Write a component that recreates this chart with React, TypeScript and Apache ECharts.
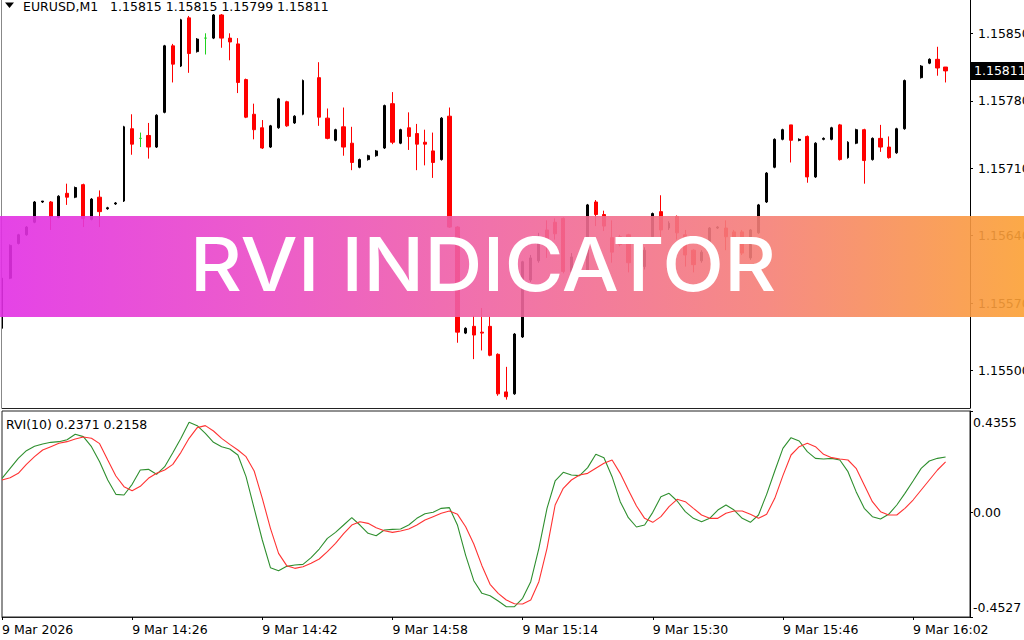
import React, { useEffect, useRef } from "react";
import * as echarts from "echarts";

const headerText = "EURUSD,M1   1.15815 1.15815 1.15799 1.15811";
const rviTitle = "RVI(10) 0.2371 0.2158";
const bannerText = "RVI INDICATOR";

const slotCount = 120; // minute slots 14:10 .. 16:09
const startMinute = 14 * 60 + 10;
const firstLabel = "9 Mar 2026";
const dayPrefix = "9 Mar ";

const priceTicks = [1.155, 1.1557, 1.1564, 1.1571, 1.1578, 1.1585];
const priceMin = 1.1546131;
const priceMax = 1.1588454;
const rviTicks = [0.4355, 0, -0.4527];
const rviMin = -0.4527;
const rviMax = 0.4355;

const open = [
  1.15544, 1.15596, 1.15632, 1.15641, 1.15654, 1.15675, 1.15675, 1.15659, 1.15684, 1.1568,
  1.15693, 1.15657, 1.1568, 1.15668, 1.15673, 1.15676, 1.15751, 1.15741, 1.15744, 1.15732,
  1.15768, 1.15837, 1.15816, 1.15866, 1.15831, 1.15845, 1.15845, 1.15869, 1.15845, 1.15839,
  1.15802, 1.15766, 1.15752, 1.15732, 1.15752, 1.15779, 1.15757, 1.15766, null, 1.15804,
  1.15762, 1.15739, 1.15753, 1.15736, 1.15711, 1.15719, 1.15723, 1.15731, 1.15777, 1.15736,
  1.15752, 1.15746, 1.15737, 1.15728, 1.15719, 1.15764, 1.15649, 1.15539, 1.15546, 1.1554,
  1.15546, 1.15517, 1.15478, 1.15476, 1.15535, 1.15594, 1.15614, 1.15646, 1.15654, 1.15658,
  1.15603, 1.15618, 1.15604, 1.15675, 1.15662, 1.15638, 1.15639, 1.15641, 1.15612, 1.15608,
  1.15639, 1.15665, 1.15648, 1.1566, 1.15641, 1.15625, 1.15614, 1.15632, 1.15648, 1.15648,
  1.15644, 1.15644, 1.15617, 1.15643, 1.15675, 1.15711, 1.1574, 1.15755, 1.15739, 1.15743,
  1.15701, 1.1574, 1.1574, 1.15755, 1.15721, 1.15736, 1.1575, 1.15719, 1.15741, 1.15732,
  1.15726, 1.15751, null, 1.15804, 1.15819, 1.15823, 1.15815,
];
const high = [
  1.15597, 1.15631, 1.15642, 1.1565, 1.15676, 1.15676, 1.15676, 1.15682, 1.15694, 1.15691,
  1.15694, 1.15679, 1.15687, 1.1567, 1.15675, 1.15754, 1.15766, 1.15747, 1.15757, 1.15766,
  1.15838, 1.15839, 1.15865, 1.15868, 1.15845, 1.1585, 1.1587, 1.1587, 1.1585, 1.15845,
  1.15803, 1.15777, 1.1576, 1.15755, 1.15783, 1.1578, 1.15765, 1.15802, null, 1.1582,
  1.15772, 1.15751, 1.15773, 1.15753, 1.1572, 1.15724, 1.15729, 1.15776, 1.15789, 1.15751,
  1.15768, 1.15756, 1.1575, 1.15747, 1.15763, 1.15773, 1.1565, 1.15545, 1.15557, 1.15565,
  1.15556, 1.15518, 1.15504, 1.15539, 1.15614, 1.1562, 1.15643, 1.15656, 1.15658, 1.15659,
  1.15622, 1.15624, 1.15673, 1.15677, 1.15666, 1.15656, 1.15641, 1.15642, 1.15618, 1.15628,
  1.15664, 1.15682, 1.15655, 1.15661, 1.15646, 1.15626, 1.15625, 1.15649, 1.1565, 1.15656,
  1.15646, 1.15646, 1.15647, 1.15673, 1.15706, 1.15741, 1.15751, 1.15755, 1.15741, 1.15744,
  1.15737, 1.15742, 1.15753, 1.15756, 1.15738, 1.15751, 1.15751, 1.15742, 1.15755, 1.15743,
  1.15752, 1.15802, null, 1.15817, 1.15824, 1.15836, 1.15815,
];
const low = [
  1.15542, 1.15595, 1.15631, 1.1564, 1.15653, 1.15674, 1.15646, 1.15658, 1.15672, 1.15679,
  1.15649, 1.15656, 1.15649, 1.15667, 1.15672, 1.15675, 1.15724, 1.15732, 1.1572, 1.15731,
  1.15767, 1.15799, 1.15815, 1.15809, 1.1583, 1.15828, 1.15844, 1.15835, 1.15822, 1.15788,
  1.15762, 1.1574, 1.1573, 1.15731, 1.15751, 1.15753, 1.15756, 1.15765, null, 1.15754,
  1.1574, 1.15738, 1.15723, 1.15708, 1.1571, 1.15718, 1.15722, 1.1573, 1.15735, 1.15735,
  1.15729, 1.15708, 1.15713, 1.157, 1.15718, 1.15648, 1.15529, 1.15538, 1.15512, 1.15521,
  1.15515, 1.15474, 1.1547, 1.15475, 1.15534, 1.15592, 1.15612, 1.15617, 1.15636, 1.15601,
  1.15598, 1.156, 1.15603, 1.1565, 1.15645, 1.15612, 1.15629, 1.15602, 1.156, 1.15605,
  1.15638, 1.15636, 1.15646, 1.15636, 1.15608, 1.15602, 1.15612, 1.15631, 1.15647, 1.15625,
  1.15636, 1.1562, 1.15615, 1.15642, 1.15674, 1.1571, 1.15739, 1.15716, 1.15738, 1.15695,
  1.157, 1.15739, 1.15739, 1.15718, 1.1572, 1.15735, 1.15694, 1.15718, 1.15727, 1.1572,
  1.15725, 1.1575, null, 1.15803, 1.15818, 1.15806, 1.15799,
];
const close = [
  1.15596, 1.1563, 1.15641, 1.15649, 1.15675, 1.15676, 1.1566, 1.15681, 1.1568, 1.1569,
  1.15658, 1.15678, 1.15665, 1.15669, 1.15674, 1.15753, 1.15735, 1.15741, 1.15732, 1.15765,
  1.15837, 1.15818, 1.15864, 1.15829, 1.15844, 1.15845, 1.15869, 1.15845, 1.15841, 1.15799,
  1.15763, 1.1575, 1.15731, 1.15754, 1.15782, 1.15754, 1.15764, 1.15801, null, 1.15763,
  1.15741, 1.1575, 1.15732, 1.15716, 1.15719, 1.15723, 1.15728, 1.15775, 1.15737, 1.1575,
  1.15743, 1.15735, 1.15735, 1.15716, 1.15762, 1.15649, 1.1554, 1.15544, 1.15537, 1.15539,
  1.15516, 1.15476, 1.15473, 1.15538, 1.15613, 1.15617, 1.15639, 1.15629, 1.15642, 1.15603,
  1.15618, 1.15605, 1.15672, 1.15662, 1.1565, 1.15623, 1.15631, 1.15612, 1.15608, 1.15625,
  1.15663, 1.15646, 1.15653, 1.15643, 1.1562, 1.1561, 1.15623, 1.15648, 1.15649, 1.15639,
  1.15638, 1.15622, 1.15646, 1.15672, 1.15705, 1.1574, 1.1575, 1.15739, 1.1574, 1.15701,
  1.15736, 1.15741, 1.15752, 1.15719, 1.15737, 1.1575, 1.15718, 1.15741, 1.15732, 1.15721,
  1.15751, 1.15801, null, 1.15816, 1.15823, 1.15814, 1.15811,
];

const rviMain = [
  0.1452, 0.1883, 0.2314, 0.2645, 0.2832, 0.2932, 0.3004, 0.3033, 0.3119, 0.3349,
  0.3249, 0.2817, 0.2171, 0.138, 0.0762, 0.0733, 0.1193, 0.1811, 0.184, 0.1624,
  0.1955, 0.2559, 0.3177, 0.3867, 0.3723, 0.3392, 0.3004, 0.2817, 0.2717, 0.2458,
  0.1524, 0.0158, -0.1207, -0.24, -0.253, -0.2343, -0.2285, -0.2257, -0.1969, -0.1596,
  -0.1136, -0.0877, -0.0561, -0.0244, -0.0561, -0.092, -0.1021, -0.0776, -0.0747, -0.0733,
  -0.0561, -0.0273, -0.0072, -0.0014, 0.0158, 0.0187, -0.0575, -0.1869, -0.2961, -0.3507,
  -0.3608, -0.3838, -0.4082, -0.4082, -0.3723, -0.3004, -0.1567, 0.0158, 0.1337, 0.1711,
  0.1596, 0.1567, 0.1912, 0.2487, 0.2343, 0.1524, 0.0446, -0.0244, -0.0647, -0.0561,
  -0.0014, 0.0661, 0.0805, 0.0474, 0.0014, -0.0273, -0.0417, -0.0273, 0.0086, 0.0302,
  0.0086, -0.0273, -0.0446, -0.0129, 0.0762, 0.1768, 0.2745, 0.3206, 0.3062, 0.2602,
  0.2314, 0.2285, 0.2314, 0.2242, 0.1739, 0.0877, 0.0158, -0.0201, -0.0302, -0.0101,
  0.0302, 0.0805, 0.1337, 0.1883, 0.2199, 0.2314, 0.2371,
];
const rviSignal = [
  0.138, 0.1481, 0.1667, 0.2055, 0.2386, 0.2674, 0.2817, 0.2961, 0.3033, 0.3148,
  0.3234, 0.3177, 0.2947, 0.2242, 0.1552, 0.1092, 0.092, 0.1107, 0.1452, 0.1667,
  0.1811, 0.2055, 0.2573, 0.3177, 0.3637, 0.3723, 0.3493, 0.3177, 0.2918, 0.2674,
  0.2386, 0.1768, 0.0589, -0.0704, -0.1782, -0.2314, -0.2429, -0.2357, -0.2214, -0.2027,
  -0.1711, -0.1351, -0.0934, -0.0561, -0.0417, -0.0489, -0.0676, -0.0805, -0.0877, -0.0819,
  -0.0733, -0.0561, -0.0345, -0.0201, -0.0057, 0.0043, -0.0101, -0.0633, -0.138, -0.2314,
  -0.3119, -0.3507, -0.3795, -0.3953, -0.3967, -0.3795, -0.3004, -0.1567, 0.0302, 0.1021,
  0.138, 0.1596, 0.1667, 0.1883, 0.2099, 0.2242, 0.1667, 0.0949, 0.0259, -0.0273,
  -0.0446, -0.0201, 0.023, 0.0546, 0.0446, 0.0158, -0.0129, -0.0273, -0.0273, -0.0057,
  0.0043, 0.0043, -0.0101, -0.0273, -0.0101, 0.0589, 0.1567, 0.2458, 0.2817, 0.2961,
  0.2817, 0.2487, 0.2343, 0.2285, 0.2242, 0.1883, 0.1164, 0.0446, 0.0014, -0.0129,
  -0.0129, 0.0158, 0.0517, 0.0949, 0.138, 0.1811, 0.2158,
];

const MT_FONT = '"DejaVu Sans", Verdana, sans-serif';
const MT_SIZE = 12.5;

function pad2(n: number) {
  return n < 10 ? "0" + n : String(n);
}

export default function App() {
  const ref = useRef<HTMLDivElement>(null);

  useEffect(() => {
    if (!ref.current) return;
    const chart = echarts.init(ref.current, undefined, { renderer: "svg" });

    const categories: string[] = [];
    for (let i = 0; i < slotCount; i++) {
      const m = startMinute + i;
      categories.push(i === 0 ? firstLabel : dayPrefix + pad2(Math.floor(m / 60)) + ":" + pad2(m % 60));
    }

    const bullData: number[][] = [];
    const bearData: number[][] = [];
    open.forEach((o, i) => {
      if (o == null) return;
      const row = [i, o, close[i] as number, low[i] as number, high[i] as number];
      if ((close[i] as number) >= o) bullData.push(row);
      else bearData.push(row);
    });
    const lastClose = close[close.length - 1] as number;

    const candleDims = ["slot", "open", "close", "lowest", "highest"];
    const candleEncode = { x: "slot", y: ["open", "close", "lowest", "highest"] };

    const option: any = {
      animation: false,
      backgroundColor: "#ffffff",
      textStyle: { fontFamily: MT_FONT },
      grid: [
        { left: 2, right: 54, top: 0, height: 408, show: false, containLabel: false, outerBoundsMode: "none" },
        {
          left: 2,
          right: 54,
          top: 411,
          bottom: 23,
          show: true,
          borderColor: "#222",
          borderWidth: 1,
          containLabel: false,
          outerBoundsMode: "none",
        },
      ],
      xAxis: [
        {
          gridIndex: 0,
          type: "category",
          data: categories,
          boundaryGap: false,
          axisLine: { show: true, onZero: false, lineStyle: { color: "#222", width: 1 } },
          axisTick: { show: false },
          axisLabel: { show: false },
          splitLine: { show: false },
        },
        {
          gridIndex: 1,
          type: "category",
          data: categories,
          boundaryGap: false,
          position: "bottom",
          axisLine: { show: true, onZero: false, lineStyle: { color: "#222", width: 1 } },
          axisTick: { show: true, interval: 15, length: 3, lineStyle: { color: "#000" } },
          axisLabel: {
            interval: 15,
            align: "left",
            margin: 6,
            color: "#000",
            fontSize: MT_SIZE,
            fontFamily: MT_FONT,
          },
          splitLine: { show: false },
        },
      ],
      yAxis: [
        {
          gridIndex: 0,
          type: "value",
          position: "right",
          min: priceMin,
          max: priceMax,
          axisLine: { show: true, lineStyle: { color: "#000", width: 1 } },
          axisTick: { show: true, length: 3, customValues: priceTicks, lineStyle: { color: "#000" } },
          axisLabel: {
            customValues: priceTicks,
            formatter: (v: number) => v.toFixed(5),
            margin: 8,
            color: "#000",
            fontSize: MT_SIZE,
            fontFamily: MT_FONT,
          },
          splitLine: { show: false },
        },
        {
          gridIndex: 1,
          type: "value",
          position: "right",
          min: rviMin,
          max: rviMax,
          axisLine: { show: true, lineStyle: { color: "#000", width: 1 } },
          axisTick: { show: true, length: 3, customValues: rviTicks, lineStyle: { color: "#000" } },
          axisLabel: {
            customValues: rviTicks,
            margin: 3,
            color: "#000",
            fontSize: MT_SIZE,
            fontFamily: MT_FONT,
            formatter: (v: number) =>
              v === rviMax ? "{top|" + v.toFixed(4) + "}" : v === rviMin ? "{bot|" + v.toFixed(4) + "}" : v.toFixed(2),
            rich: {
              top: { padding: [22, 0, 0, 0], color: "#000", fontSize: MT_SIZE, fontFamily: MT_FONT },
              bot: { padding: [0, 0, 19, 0], color: "#000", fontSize: MT_SIZE, fontFamily: MT_FONT },
            },
          },
          splitLine: { show: false },
        },
        {
          // current price tag
          gridIndex: 0,
          type: "value",
          position: "right",
          min: priceMin,
          max: priceMax,
          axisLine: { show: false },
          axisTick: { show: false },
          splitLine: { show: false },
          axisLabel: {
            customValues: [lastClose],
            formatter: (v: number) => v.toFixed(5),
            margin: 1,
            color: "#ffffff",
            backgroundColor: "#000000",
            padding: [3, 6, 2, 3],
            fontSize: MT_SIZE,
            fontFamily: MT_FONT,
          },
        },
      ],
      series: [
        {
          name: "bull",
          type: "candlestick",
          xAxisIndex: 0,
          yAxisIndex: 0,
          dimensions: candleDims,
          encode: candleEncode,
          data: bullData,
          barWidth: 2.4,
          itemStyle: {
            color: "#000000",
            color0: "#ff0000",
            borderColor: "#000000",
            borderColor0: "#ff0000",
            borderColorDoji: "#1fd21f",
            borderWidth: 1,
          },
        },
        {
          name: "bear",
          type: "candlestick",
          xAxisIndex: 0,
          yAxisIndex: 0,
          dimensions: candleDims,
          encode: candleEncode,
          data: bearData,
          barWidth: 3.8,
          itemStyle: {
            color: "#000000",
            color0: "#ff0000",
            borderColor: "#000000",
            borderColor0: "#ff0000",
            borderWidth: 1,
          },
        },
        {
          name: "RVI",
          type: "line",
          xAxisIndex: 1,
          yAxisIndex: 1,
          data: rviMain,
          showSymbol: false,
          symbol: "none",
          lineStyle: { color: "#2f8f2f", width: 1.1 },
          itemStyle: { color: "#2f8f2f" },
        },
        {
          name: "Signal",
          type: "line",
          xAxisIndex: 1,
          yAxisIndex: 1,
          data: rviSignal,
          showSymbol: false,
          symbol: "none",
          lineStyle: { color: "#ff3333", width: 1.1 },
          itemStyle: { color: "#ff3333" },
        },
      ],
      graphic: [
        {
          type: "line",
          shape: { x1: 1.5, y1: 0, x2: 1.5, y2: 408 },
          style: { stroke: "#888", lineWidth: 1 },
          z: 5,
        },
        {
          type: "polygon",
          shape: { points: [[5, 2.5], [14, 2.5], [9.5, 8]] },
          style: { fill: "#000" },
          z: 5,
        },
        {
          type: "text",
          x: 23,
          y: 6.5,
          style: {
            text: headerText,
            fill: "#000",
            font: MT_SIZE + "px " + MT_FONT,
            textVerticalAlign: "middle",
            verticalAlign: "middle",
          },
          z: 5,
        },
        {
          type: "text",
          x: 6,
          y: 424,
          style: {
            text: rviTitle,
            fill: "#000",
            font: MT_SIZE + "px " + MT_FONT,
            textVerticalAlign: "middle",
            verticalAlign: "middle",
          },
          z: 5,
        },
        {
          type: "rect",
          shape: { x: 0, y: 216, width: 1024, height: 101 },
          style: {
            fill: new echarts.graphic.LinearGradient(0, 0, 1, 0, [
              { offset: 0, color: "#E22FE4" },
              { offset: 0.25, color: "#EA4AC6" },
              { offset: 0.5, color: "#F0659E" },
              { offset: 0.75, color: "#F57F76" },
              { offset: 1, color: "#FBA034" },
            ]),
            opacity: 0.9,
          },
          z: 100,
        },
        {
          type: "text",
          x: 483,
          y: 264,
          scaleX: 1.09,
          style: {
            text: bannerText,
            fill: "#ffffff",
            font: '500 74px Inter, "Noto Sans", sans-serif',
            textAlign: "center",
            align: "center",
            textVerticalAlign: "middle",
            verticalAlign: "middle",
          },
          z: 101,
        },
      ],
    };

    chart.setOption(option);
    return () => chart.dispose();
  }, []);

  return (
    <div
      ref={ref}
      style={{ position: "fixed", left: 0, top: 0, width: 1024, height: 640, background: "#fff" }}
    />
  );
}
